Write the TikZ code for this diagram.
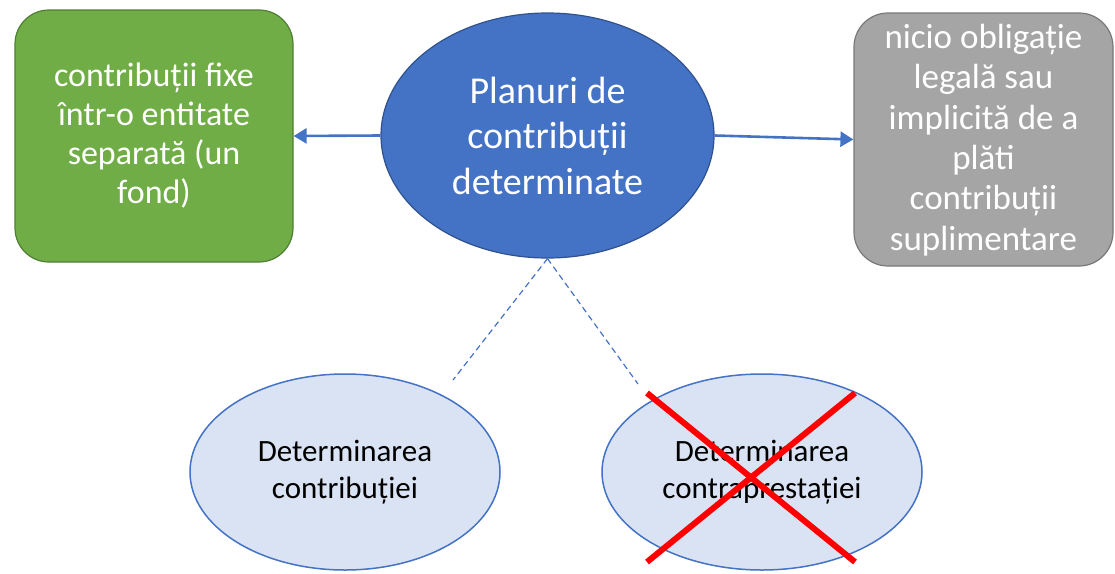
\documentclass[tikz,border=0pt]{standalone}
\usepackage{fontspec}
\setmainfont{Carlito}
\usetikzlibrary{shapes.geometric,arrows.meta}
\definecolor{cblue}{HTML}{4472C4}
\definecolor{cblued}{HTML}{2F528F}
\definecolor{cgreen}{HTML}{70AD47}
\definecolor{cgreend}{HTML}{507E32}
\definecolor{cgray}{HTML}{A5A5A5}
\definecolor{cgrayd}{HTML}{787878}
\definecolor{clight}{HTML}{DAE3F3}
\definecolor{cred}{HTML}{FF0000}
\begin{document}
\begin{tikzpicture}[x=1pt,y=-1pt,
  boxshape/.style={rectangle,rounded corners=34pt,line width=1.2pt,inner sep=0pt,text=white,align=center},
  mainell/.style={ellipse,fill=cblue,draw=cblued,line width=1.2pt,inner sep=0pt,text=white,align=center,
    minimum width=333pt,minimum height=245pt,font=\fontsize{38}{45.5}\selectfont},
  subell/.style={ellipse,fill=clight,draw=cblue,line width=1.5pt,inner sep=0pt,text=black,align=center,
    minimum width=310pt,minimum height=196pt,font=\fontsize{31}{37}\selectfont},
  arrowline/.style={draw=cblue,line width=2.6pt,-{Triangle[length=13pt,width=15pt]}},
  dashline/.style={draw=cblue,line width=1.2pt,dash pattern=on 6pt off 4pt},
  cross/.style={draw=cred,line width=6pt}
]
\useasboundingbox (0,0) rectangle (1115,573);

\node[mainell] (c) at (547.5,135.5) {Planuri de\\contribuții\\determinate};

\node[boxshape,fill=cgreen,draw=cgreend,minimum width=278pt,minimum height=252pt,
  font=\fontsize{34}{39}\selectfont] (g) at (154,136) {contribuții fixe\\într-o entitate\\separată (un\\fond)};

\node[boxshape,fill=cgray,draw=cgrayd,minimum width=259pt,minimum height=253pt] (r) at (983.5,139.5) {};
\node[text=white,align=center,inner sep=0pt,font=\fontsize{35}{40.4}\selectfont] (rt) at (983.5,140) {nicio obligație\\legală sau\\implicită de a\\plăti\\contribuții\\suplimentare};

\node[subell] (l1) at (345,472) {Determinarea\\contribuției};
\node[subell,minimum width=320pt] (l2) at (762,472) {Determinarea\\contraprestației};

\draw[arrowline] (c.west) -- (g.east);
\draw[arrowline] (c.east) -- (r.west);

\coordinate (d1) at (453,380);
\coordinate (d2) at (638,384);
\draw[dashline] (c.south) -- (d1);
\draw[dashline] (c.south) -- (d2);

\coordinate (x1) at (647,393);
\coordinate (x2) at (855,562);
\coordinate (x3) at (855,393);
\coordinate (x4) at (647,562);
\draw[cross] (x1) -- (x2);
\draw[cross] (x3) -- (x4);
\end{tikzpicture}
\end{document}
